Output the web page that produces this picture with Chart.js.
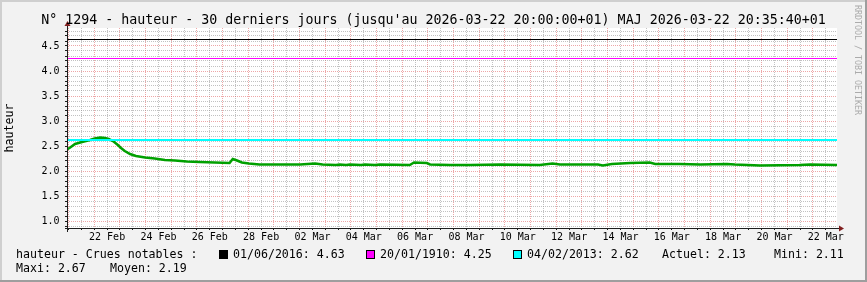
<!DOCTYPE html>
<html>
<head>
<meta charset="utf-8">
<script src="https://cdn.jsdelivr.net/npm/chart.js@4.4.1/dist/chart.umd.min.js"></script>
<style>
  html, body { margin: 0; padding: 0; background: #f2f2f2; }
  #wrap { width: 867px; height: 282px; }
</style>
</head>
<body>
<div id="wrap"><canvas id="hauteurChart" width="867" height="282"></canvas></div>
<script>
// heures depuis le début de la période (20 Feb 22:30) et hauteur
var heures = [0, 3, 7.5, 14, 21.5, 26, 31, 35.5, 39, 43, 47, 50.5, 54, 59, 64.5, 73, 82, 91.5, 101, 112,
  124, 138, 152, 155, 159, 163.5, 170, 180, 218, 232, 239, 251.5, 255, 261, 264.5, 275, 278.5, 288, 292.5,
  320.5, 324.5, 336.5, 339.5, 358, 377, 405, 442, 454, 461, 496.5, 501, 509.5, 526.5, 545, 550, 573, 592,
  617, 624.5, 648, 685, 695, 720];
var hauteur = [2.43, 2.47, 2.54, 2.58, 2.62, 2.65, 2.67, 2.66, 2.64, 2.60, 2.53, 2.46, 2.40, 2.34, 2.30, 2.27, 2.25, 2.22, 2.21, 2.19,
  2.18, 2.17, 2.16, 2.24, 2.21, 2.17, 2.15, 2.13, 2.13, 2.15, 2.13, 2.12, 2.13, 2.12, 2.13, 2.12, 2.13, 2.12, 2.13,
  2.12, 2.17, 2.16, 2.13, 2.12, 2.12, 2.13, 2.12, 2.15, 2.13, 2.13, 2.11, 2.14, 2.16, 2.17, 2.14, 2.14, 2.13,
  2.14, 2.13, 2.11, 2.12, 2.13, 2.12];

// étiquettes de l'axe des temps (une tous les 2 jours, centrées à midi)
var xLabels = ['22 Feb', '24 Feb', '26 Feb', '28 Feb', '02 Mar', '04 Mar', '06 Mar', '08 Mar',
  '10 Mar', '12 Mar', '14 Mar', '16 Mar', '18 Mar', '20 Mar', '22 Mar'];
var premierMinuit = 1.5;   // 21 Feb 00:00
var premierLabel = 37.5;   // 22 Feb 12:00
var dureeHeures = 720;

// crues notables
var cruesDates = ['01/06/2016', '20/01/1910', '04/02/2013'];
var cruesHauteurs = [4.63, 4.25, 2.62];
var cruesCouleurs = ['#000000', '#ff00ff', '#00ffff'];

// statistiques
var statsNoms = ['Actuel', 'Mini', 'Maxi', 'Moyen'];
var statsValeurs = [2.13, 2.11, 2.67, 2.19];

var titre = "N° 1294 - hauteur - 30 derniers jours (jusqu'au 2026-03-22 20:00:00+01) MAJ 2026-03-22 20:35:40+01";
var mono = "'DejaVu Sans Mono', monospace";

var points = heures.map(function (h, i) { return { x: h, y: hauteur[i] }; });

var datasets = cruesHauteurs.map(function (v, i) {
  return {
    label: cruesDates[i],
    data: [{ x: 0, y: v }, { x: dureeHeures, y: v }],
    borderColor: cruesCouleurs[i],
    borderWidth: i === 2 ? 2 : 1.2,
    pointRadius: 0
  };
});
datasets.push({
  label: 'hauteur',
  data: points,
  borderColor: '#00a000',
  borderWidth: 2.5,
  pointRadius: 0,
  tension: 0
});

var decorRrd = {
  id: 'decorRrd',
  beforeDraw: function (chart) {
    var ctx = chart.ctx, a = chart.chartArea;
    var W = chart.width, H = chart.height;
    ctx.save();
    ctx.fillStyle = '#f2f2f2';
    ctx.fillRect(0, 0, W, H);
    ctx.fillStyle = '#cfcfcf';
    ctx.fillRect(0, 0, W, 2);
    ctx.fillRect(0, 0, 2, H);
    ctx.fillStyle = '#9e9e9e';
    ctx.fillRect(0, H - 2, W, 2);
    ctx.fillRect(W - 2, 0, 2, H);
    ctx.fillStyle = '#ffffff';
    ctx.fillRect(a.left, a.top, a.right - a.left, a.bottom - a.top);
    ctx.restore();
  },
  afterDraw: function (chart) {
    var ctx = chart.ctx, a = chart.chartArea;
    ctx.save();
    // axes
    ctx.strokeStyle = 'rgb(31,31,31)';
    ctx.lineWidth = 1;
    ctx.beginPath();
    ctx.moveTo(a.left - 2, a.bottom + 0.5);
    ctx.lineTo(a.right + 4, a.bottom + 0.5);
    ctx.moveTo(a.left + 0.5, a.bottom + 4);
    ctx.lineTo(a.left + 0.5, a.top - 3);
    ctx.stroke();
    // flèches
    ctx.fillStyle = 'rgb(128,31,31)';
    ctx.beginPath();
    ctx.moveTo(a.right + 2, a.bottom - 2.5);
    ctx.lineTo(a.right + 7, a.bottom + 0.5);
    ctx.lineTo(a.right + 2, a.bottom + 3.5);
    ctx.closePath();
    ctx.fill();
    ctx.beginPath();
    ctx.moveTo(a.left - 2.5, a.top - 2);
    ctx.lineTo(a.left + 0.5, a.top - 7);
    ctx.lineTo(a.left + 3.5, a.top - 2);
    ctx.closePath();
    ctx.fill();

    // titre
    ctx.fillStyle = '#000';
    ctx.font = '13.3px ' + mono;
    ctx.textAlign = 'center';
    ctx.textBaseline = 'alphabetic';
    ctx.fillText(titre, chart.width / 2, 24);

    // légende
    ctx.font = '11.6px ' + mono;
    ctx.textAlign = 'left';
    ctx.fillText('hauteur - Crues notables :', 16, 257.5);
    var carres = [219, 366, 513];
    cruesDates.forEach(function (d, i) {
      var x = carres[i];
      ctx.fillStyle = cruesCouleurs[i];
      ctx.fillRect(x, 250, 9, 9);
      ctx.strokeStyle = '#000';
      ctx.strokeRect(x + 0.5, 250.5, 8, 8);
      ctx.fillStyle = '#000';
      ctx.fillText(d + ': ' + cruesHauteurs[i].toFixed(2), x + 14, 257.5);
    });
    ctx.fillText(statsNoms[0] + ': ' + statsValeurs[0].toFixed(2), 662, 257.5);
    ctx.fillText(statsNoms[1] + ': ' + statsValeurs[1].toFixed(2), 774, 257.5);
    ctx.fillText(statsNoms[2] + ': ' + statsValeurs[2].toFixed(2), 16, 271.5);
    ctx.fillText(statsNoms[3] + ': ' + statsValeurs[3].toFixed(2), 110, 271.5);

    // filigrane
    ctx.translate(857.5, 60);
    ctx.rotate(Math.PI / 2);
    ctx.fillStyle = '#ababab';
    ctx.font = '8.3px ' + mono;
    ctx.textAlign = 'center';
    ctx.textBaseline = 'middle';
    ctx.fillText('RRDTOOL / TOBI OETIKER', 0, 0);
    ctx.restore();
  }
};

function estMinuit(v) { return Math.abs(((v - premierMinuit) % 24)) < 1e-6; }
function estMajeurY(v) { return Math.abs(v * 2 - Math.round(v * 2)) < 1e-6; }

var grilleMineure = 'rgba(143,143,143,0.55)';
var grilleMajeure = 'rgba(222,79,79,0.5)';

var ctx = document.getElementById('hauteurChart').getContext('2d');
var hauteurChart = new Chart(ctx, {
  type: 'line',
  data: { datasets: datasets },
  plugins: [decorRrd],
  options: {
    responsive: false,
    animation: false,
    devicePixelRatio: 1,
    layout: { padding: { top: 28, right: 30, bottom: 0, left: 0 } },
    plugins: { legend: { display: false }, tooltip: { enabled: false }, title: { display: false } },
    scales: {
      x: {
        type: 'linear',
        min: 0,
        max: dureeHeures,
        afterFit: function (s) { s.height = 54; },
        afterBuildTicks: function (s) {
          var t = [];
          for (var h = premierMinuit; h <= dureeHeures; h += 12) t.push({ value: h });
          s.ticks = t;
        },
        border: { display: false, dash: [1, 1] },
        grid: {
          color: function (c) {
            if (!c.tick) return 'rgba(0,0,0,0)';
            return estMinuit(c.tick.value) ? grilleMajeure : grilleMineure;
          },
          lineWidth: 1,
          tickLength: 2,
          tickColor: 'rgb(31,31,31)',
          tickBorderDash: []
        },
        ticks: {
          autoSkip: false,
          maxRotation: 0,
          padding: 1.5,
          color: '#000',
          font: { family: mono, size: 10 },
          callback: function (v) {
            var k = (v - premierLabel) / 48;
            if (Math.abs(k - Math.round(k)) < 1e-6 && xLabels[Math.round(k)]) return xLabels[Math.round(k)];
            return '';
          }
        }
      },
      y: {
        type: 'linear',
        min: 0.86,
        max: 4.86,
        afterFit: function (s) { s.width = 67; },
        afterBuildTicks: function (s) {
          var t = [];
          for (var k = 9; k <= 48; k++) t.push({ value: k / 10 });
          s.ticks = t;
        },
        border: { display: false, dash: [1, 1] },
        grid: {
          color: function (c) {
            if (!c.tick) return 'rgba(0,0,0,0)';
            return estMajeurY(c.tick.value) ? grilleMajeure : grilleMineure;
          },
          lineWidth: 1,
          tickLength: 2,
          tickColor: 'rgb(31,31,31)',
          tickBorderDash: []
        },
        title: {
          display: true,
          text: 'hauteur',
          color: '#000',
          font: { family: mono, size: 11.6 },
          padding: { top: 3.5, bottom: 0 }
        },
        ticks: {
          autoSkip: false,
          padding: 5.5,
          color: '#000',
          font: { family: mono, size: 10 },
          callback: function (v) { return estMajeurY(v) ? v.toFixed(1) : ''; }
        }
      }
    }
  }
});
</script>
</body>
</html>
